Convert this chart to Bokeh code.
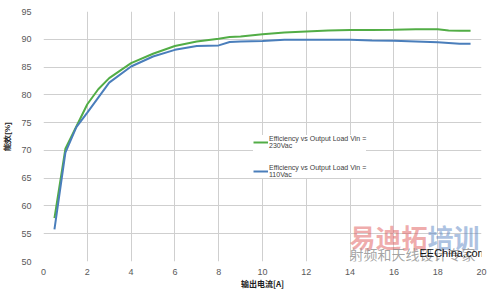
from bokeh.plotting import figure
from bokeh.models import Range1d, Legend, LegendItem, Label, FixedTicker
from bokeh.embed import file_html
from bokeh.resources import INLINE

# Output current [A]
load_a = [0.5, 1, 1.5, 2, 2.5, 3, 4, 5, 6, 7, 8, 8.5, 9, 10, 11, 12, 13, 14,
          15, 16, 17, 18, 18.5, 19, 19.5]
# Efficiency, Vin = 230Vac
eff_230 = [57.8, 70.3, 74.3, 78.3, 81.0, 83.0, 85.7, 87.4, 88.8, 89.6, 90.1,
           90.4, 90.5, 90.9, 91.2, 91.4, 91.6, 91.65, 91.65, 91.7, 91.8, 91.8,
           91.6, 91.55, 91.55]
# Efficiency, Vin = 110Vac
eff_110 = [55.8, 69.6, 74.2, 76.8, 79.5, 82.2, 85.1, 86.9, 88.1, 88.8, 88.9,
           89.5, 89.6, 89.7, 89.9, 89.9, 89.9, 89.9, 89.8, 89.75, 89.6, 89.45,
           89.35, 89.2, 89.2]
x_ticks = [0, 2, 4, 6, 8, 10, 12, 14, 16, 18, 20]
y_ticks = [50, 55, 60, 65, 70, 75, 80, 85, 90, 95]
series_labels = ["Efficiency vs Output Load Vin =\n230Vac",
                 "Efficiency vs Output Load Vin =\n110Vac"]

p = figure(width=500, height=299, output_backend="svg", toolbar_location=None,
           x_range=Range1d(0, 20), y_range=Range1d(50, 95),
           min_border_left=41, min_border_right=19, min_border_top=11,
           min_border_bottom=38)
p.outline_line_color = None
p.background_fill_color = "white"
p.border_fill_color = "white"

for ax in (p.xaxis[0], p.yaxis[0]):
    ax.axis_line_color = None
    ax.major_tick_line_color = None
    ax.minor_tick_line_color = None
    ax.major_label_text_color = "#595959"
    ax.major_label_text_font = "Liberation Sans"
    ax.major_label_text_font_size = "9px"
    ax.axis_label_text_font = "Noto Sans CJK SC"
    ax.axis_label_text_font_style = "bold"
    ax.axis_label_text_font_size = "8px"
    ax.axis_label_text_color = "#222222"

p.xaxis[0].ticker = FixedTicker(ticks=x_ticks)
p.yaxis[0].ticker = FixedTicker(ticks=y_ticks)
p.xaxis[0].major_label_standoff = 1
p.yaxis[0].major_label_standoff = 6
p.xaxis[0].axis_label = "输出电流[A]"
p.yaxis[0].axis_label = "能效[%]"
p.xaxis[0].axis_label_standoff = 0
p.yaxis[0].axis_label_standoff = 6
p.yaxis[0].axis_label_text_font = "Liberation Sans"

p.xgrid[0].ticker = FixedTicker(ticks=x_ticks)
p.ygrid[0].ticker = FixedTicker(ticks=y_ticks)
for g in (p.xgrid[0], p.ygrid[0]):
    g.grid_line_color = "#cfcfcf"
    g.grid_line_width = 1

r230 = p.line(load_a, eff_230, line_color="#52ad46", line_width=2)
r110 = p.line(load_a, eff_110, line_color="#4a7ebb", line_width=2)

legend = Legend(items=[LegendItem(label=series_labels[0], renderers=[r230]),
                       LegendItem(label=series_labels[1], renderers=[r110])],
                location=(210, 83), orientation="vertical",
                background_fill_color="white", background_fill_alpha=1,
                border_line_color=None, label_text_font="Liberation Sans",
                label_text_font_size="7px", label_text_color="#404040",
                glyph_width=15, glyph_height=10, label_standoff=1,
                spacing=15, padding=8, margin=0, label_text_line_height=1.2)
p.add_layout(legend, "center")

# website watermark printed over the image (screen units, frame-relative,
# kept inside the plot frame so that it is not clipped)
p.add_layout(Label(x=306, y=25, x_units="screen", y_units="screen",
                   text="易迪拓", text_font="Noto Sans CJK SC",
                   text_font_style="bold", text_font_size="26px",
                   text_baseline="middle", text_color="#e05a5a",
                   text_alpha=0.5))
p.add_layout(Label(x=384, y=25, x_units="screen", y_units="screen",
                   text="培训", text_font="Noto Sans CJK SC",
                   text_font_style="bold", text_font_size="26px",
                   text_baseline="middle", text_color="#5b86c4",
                   text_alpha=0.5))
p.add_layout(Label(x=306, y=8, x_units="screen", y_units="screen",
                   text="射频和天线设计专家", text_font="Noto Sans CJK SC",
                   text_font_size="14px", text_baseline="middle",
                   text_color="#8c8c8c", text_alpha=0.8))
p.add_layout(Label(x=376, y=9, x_units="screen", y_units="screen",
                   text="EEChina.com", text_font="Liberation Sans",
                   text_font_size="11px", text_baseline="middle",
                   text_color="#111111"))

open("out.html", "w").write(file_html(p, INLINE))
